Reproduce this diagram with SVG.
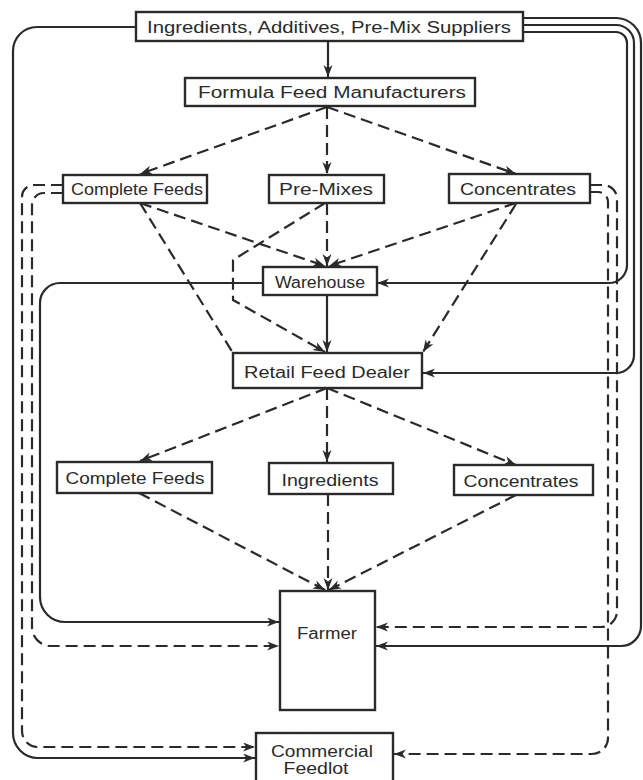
<svg xmlns="http://www.w3.org/2000/svg" width="643" height="780" viewBox="0 0 643 780">
<defs>
<style>
.box{fill:#fff;stroke:#2a2a2a;stroke-width:2.4}
.lbl{font-family:"Liberation Sans","DejaVu Sans",sans-serif;font-size:16px;fill:#2a2a2a;text-anchor:middle;dominant-baseline:central}
.s{fill:none;stroke:#2a2a2a;stroke-width:2.2}
.d{fill:none;stroke:#2a2a2a;stroke-width:2.2;stroke-dasharray:12 6}
.a{marker-end:url(#ah)}
</style>
<marker id="ah" markerUnits="userSpaceOnUse" markerWidth="14" markerHeight="10" refX="12" refY="4.5" orient="auto">
<path d="M0,0 L12,4.5 L0,9 L3.5,4.5 z" fill="#2a2a2a"/>
</marker>
</defs>
<rect width="643" height="780" fill="#fff"/>
<g id="connectors">
<path class="s a" d="M328,41 V77"/>
<path class="s a" d="M137,27 H37 A24,24 0 0 0 13,51 V733 A25,25 0 0 0 38,758 H255"/>
<path class="d a" d="M63,185 H34 A12,12 0 0 0 22,197 V731 A16,16 0 0 0 38,747 H255"/>
<path class="d a" d="M63,193 H44 A12,12 0 0 0 32,205 V627 A19,19 0 0 0 51,646 H279"/>
<path class="s a" d="M263,283 H60 A20,20 0 0 0 40,303 V597 A25,25 0 0 0 65,622 H279"/>
<path class="s a" d="M522,32 H616 A11,11 0 0 1 627,43 V265 A18,18 0 0 1 609,283 H377"/>
<path class="s a" d="M522,25 H616 A18,18 0 0 1 634,43 V355 A18,18 0 0 1 616,373 H423"/>
<path class="s a" d="M522,18 H616 A25,25 0 0 1 641,43 V626 A20,20 0 0 1 621,646 H376"/>
<path class="d a" d="M590,185 H603 A14,14 0 0 1 617,199 V611 A16,16 0 0 1 601,627 H376"/>
<path class="d a" d="M590,192 H598 A10,10 0 0 1 608,202 V738 A16,16 0 0 1 592,754 H394"/>
<path class="d a" d="M327,107 L140,174"/>
<path class="d a" d="M327,107 V174"/>
<path class="d a" d="M327,107 L516,174"/>
<path class="d a" d="M140,203 L325,266"/>
<path class="d" d="M140,203 L233,353"/>
<path class="d a" d="M327,203 V266"/>
<path class="d a" d="M325,203 L233,260 V300 L325,352"/>
<path class="d a" d="M516,203 L329,266"/>
<path class="d a" d="M516,204 L423,352"/>
<path class="s a" d="M327,295 V352"/>
<path class="d a" d="M327,388 L140,461"/>
<path class="d a" d="M327,388 V462"/>
<path class="d a" d="M327,388 L516,465"/>
<path class="d a" d="M139,493 L325,590"/>
<path class="d a" d="M328,494 V590"/>
<path class="d a" d="M516,495 L329,590"/>
</g>
<g id="suppliers"><rect class="box" x="136" y="12" width="387" height="29"/><text class="lbl" x="329" y="27" textLength="364" lengthAdjust="spacingAndGlyphs">Ingredients, Additives, Pre-Mix Suppliers</text></g>
<g id="formula"><rect class="box" x="185" y="78" width="290" height="28"/><text class="lbl" x="332" y="92" textLength="268" lengthAdjust="spacingAndGlyphs">Formula Feed Manufacturers</text></g>
<g id="complete1"><rect class="box" x="63" y="175" width="144" height="28"/><text class="lbl" x="137" y="189" textLength="132" lengthAdjust="spacingAndGlyphs">Complete Feeds</text></g>
<g id="premixes"><rect class="box" x="269" y="175" width="115" height="28"/><text class="lbl" x="326" y="189" textLength="94" lengthAdjust="spacingAndGlyphs">Pre-Mixes</text></g>
<g id="concentrates1"><rect class="box" x="449" y="174" width="141" height="29"/><text class="lbl" x="518" y="189" textLength="116" lengthAdjust="spacingAndGlyphs">Concentrates</text></g>
<g id="warehouse"><rect class="box" x="263" y="267" width="114" height="28"/><text class="lbl" x="320" y="282" textLength="90" lengthAdjust="spacingAndGlyphs">Warehouse</text></g>
<g id="retail"><rect class="box" x="233" y="353" width="189" height="35"/><text class="lbl" x="327" y="372" textLength="166" lengthAdjust="spacingAndGlyphs">Retail Feed Dealer</text></g>
<g id="complete2"><rect class="box" x="57" y="462" width="155" height="31"/><text class="lbl" x="135" y="478" textLength="139" lengthAdjust="spacingAndGlyphs">Complete Feeds</text></g>
<g id="ingredients"><rect class="box" x="269" y="463" width="124" height="31"/><text class="lbl" x="330" y="480" textLength="97" lengthAdjust="spacingAndGlyphs">Ingredients</text></g>
<g id="concentrates2"><rect class="box" x="454" y="465" width="139" height="30"/><text class="lbl" x="521" y="481" textLength="115" lengthAdjust="spacingAndGlyphs">Concentrates</text></g>
<g id="farmer"><rect class="box" x="280" y="591" width="95" height="119"/><text class="lbl" x="327" y="633" textLength="60" lengthAdjust="spacingAndGlyphs">Farmer</text></g>
<g id="feedlot"><rect class="box" x="256" y="733" width="137" height="60"/><text class="lbl" x="322" y="751" textLength="102" lengthAdjust="spacingAndGlyphs">Commercial</text><text class="lbl" x="316" y="768" textLength="65" lengthAdjust="spacingAndGlyphs">Feedlot</text></g>
</svg>
